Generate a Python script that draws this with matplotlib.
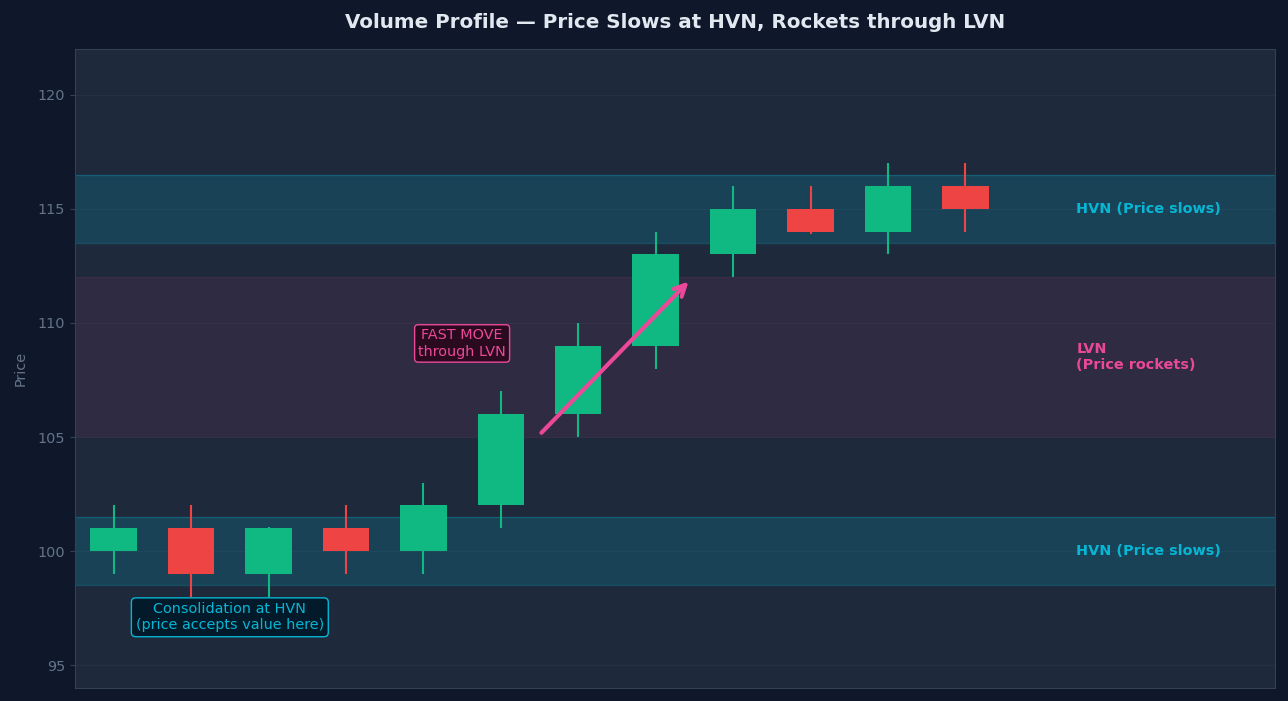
import numpy as np
import matplotlib
matplotlib.use('Agg')
import matplotlib.pyplot as plt

# candle data (open, high, low, close)
opens = [100, 101, 99, 101, 100, 102, 106, 109, 113, 115, 114, 116]
highs = [102, 102, 101.05, 102, 103, 107, 110, 114, 116, 116, 117, 117]
lows = [99, 98, 98, 99, 99, 101, 105, 108, 112, 113.9, 113, 114]
closes = [101, 99, 101, 100, 102, 106, 109, 113, 115, 114, 116, 115]

hvn_zones = [(98.5, 101.5), (113.5, 116.5)]
lvn_zone = (105, 112)

bg = '#0f172a'
panel = '#1e293b'
green = '#10b981'
red = '#ef4444'
cyan = '#06b6d4'
pink = '#ec4899'
muted = '#64748b'
edge = '#334155'
fs = 10.4

fig = plt.figure(figsize=(12.88, 7.01), dpi=100, facecolor=bg)
ax = fig.add_axes([0.0582, 0.0185, 0.9318, 0.9115])
ax.set_facecolor(panel)

# volume node zones
for lo, hi in hvn_zones:
    ax.axhspan(lo, hi, facecolor=cyan, alpha=0.18, edgecolor='none', zorder=1)
    ax.axhline(lo, color=cyan, alpha=0.25, lw=1, zorder=1)
    ax.axhline(hi, color=cyan, alpha=0.25, lw=1, zorder=1)
ax.axhspan(lvn_zone[0], lvn_zone[1], facecolor=pink, alpha=0.08, edgecolor='none', zorder=1)
ax.axhline(lvn_zone[0], color=pink, alpha=0.06, lw=1, zorder=1)
ax.axhline(lvn_zone[1], color=pink, alpha=0.06, lw=1, zorder=1)

# candles
x = np.arange(len(opens))
for i in x:
    o, h, l, c = opens[i], highs[i], lows[i], closes[i]
    col = green if c >= o else red
    ax.vlines(i, l, h, color=col, lw=1.5, zorder=3)
    ax.bar(i, abs(c - o), bottom=min(o, c), width=0.6, color=col, zorder=4)

ax.text(12.43, 115, 'HVN (Price slows)', color=cyan, fontsize=fs, fontweight='bold', va='center', ha='left')
ax.text(12.43, 100, 'HVN (Price slows)', color=cyan, fontsize=fs, fontweight='bold', va='center', ha='left')
ax.text(12.43, 108.5, 'LVN\n(Price rockets)', color=pink, fontsize=fs, fontweight='bold', va='center', ha='left')

ax.annotate('', xy=(7.45, 111.9), xytext=(5.5, 105.1),
            arrowprops=dict(arrowstyle='->', color=pink, lw=3, mutation_scale=20), zorder=6)
ax.text(4.5, 109.1, 'FAST MOVE\nthrough LVN', color=pink, fontsize=fs, ha='center', va='center',
        zorder=6, bbox=dict(boxstyle='round,pad=0.25', facecolor='#2a0a1f', edgecolor=pink, lw=1))
ax.text(1.5, 97.1, 'Consolidation at HVN\n(price accepts value here)', color=cyan, fontsize=fs,
        ha='center', va='center', zorder=6,
        bbox=dict(boxstyle='round,pad=0.3', facecolor='#021a2a', edgecolor=cyan, lw=1))

ax.set_xlim(-0.5, 15)
ax.set_ylim(94, 122)
ax.set_xticks([])
ax.set_yticks([95, 100, 105, 110, 115, 120])
ax.tick_params(axis='y', colors=edge, labelcolor=muted, labelsize=fs)
ax.grid(axis='y', color='#2b3648', lw=0.8, alpha=0.6, zorder=0)
ax.set_axisbelow(True)
for s in ax.spines.values():
    s.set_color(edge)
ax.set_ylabel('Price', color=muted, fontsize=fs, labelpad=7)

fig.text(675 / 1288, 1 - 22 / 701, 'Volume Profile \u2014 Price Slows at HVN, Rockets through LVN',
         color='#e2e8f0', fontsize=14.3, fontweight='bold', ha='center', va='center')

fig.savefig('out.png', dpi=100, facecolor=bg)
